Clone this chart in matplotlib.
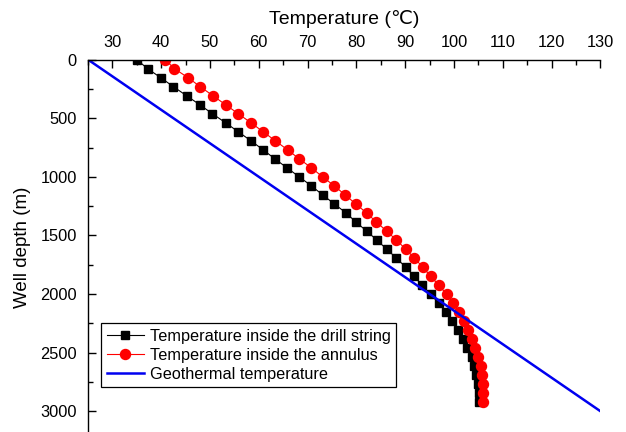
import matplotlib
matplotlib.use("Agg")
import matplotlib.pyplot as plt
from matplotlib.ticker import MultipleLocator

plt.rcParams['font.family'] = ['Liberation Sans', 'DejaVu Sans']

# well depth of the computed nodes (m)
depth = [0, 77, 154, 231, 308, 385, 462, 539, 616, 693, 770, 847, 924, 1001,
         1078, 1155, 1232, 1309, 1386, 1463, 1540, 1617, 1694, 1771, 1848,
         1925, 2002, 2079, 2156, 2233, 2310, 2387, 2464, 2541, 2618, 2695,
         2772, 2849, 2926]

# temperature inside the drill string (C)
t_string = [35.0, 37.2, 39.9, 42.5, 45.2, 47.9, 50.5, 53.2, 55.8, 58.4, 60.9,
            63.3, 65.8, 68.3, 70.8, 73.1, 75.5, 77.9, 79.9, 82.1, 84.2, 86.2,
            88.2, 90.1, 91.8, 93.5, 95.2, 96.9, 98.3, 99.7, 100.8, 101.9,
            102.7, 103.6, 104.2, 104.6, 104.9, 105.1, 105.1]

# temperature inside the annulus (C)
t_annulus = [40.8, 42.7, 45.5, 48.0, 50.6, 53.2, 55.8, 58.4, 60.9, 63.4, 65.9,
             68.3, 70.8, 73.1, 75.5, 77.7, 79.9, 82.1, 84.1, 86.2, 88.2, 90.1,
             91.9, 93.6, 95.2, 96.9, 98.5, 99.9, 101.0, 102.1, 102.9, 103.8,
             104.4, 104.9, 105.5, 105.8, 106.0, 106.0, 105.9]

# geothermal profile
geo_depth = [0, 3000]
geo_temp = [25, 130]

fig = plt.figure(figsize=(6.26, 4.32), dpi=100)
ax = fig.add_axes([0.1406, -0.006, 0.8184, 0.868])

ax.plot(t_string, depth, color="black", lw=0.8, marker="s", ms=6,
        mec="black", mfc="black", label="Temperature inside the drill string")
ax.plot(t_annulus, depth, color="red", lw=0.8, marker="o", ms=7.2,
        mec="red", mfc="red", label="Temperature inside the annulus")
ax.plot(geo_temp, geo_depth, color="#0000f0", lw=1.8,
        label="Geothermal temperature")

ax.set_xlim(25, 130)
ax.set_ylim(3200, 0)

ax.xaxis.set_label_position("top")
ax.xaxis.tick_top()
ax.set_xlabel("Temperature (\u2103)", fontsize=14, labelpad=8)
ax.set_ylabel("Well depth (m)", fontsize=13.5, labelpad=7)

ax.xaxis.set_major_locator(MultipleLocator(10))
ax.xaxis.set_minor_locator(MultipleLocator(5))
ax.yaxis.set_major_locator(MultipleLocator(500))
ax.yaxis.set_minor_locator(MultipleLocator(250))
ax.tick_params(which="both", direction="in", labelsize=11.8, width=1)
ax.tick_params(which="major", length=6)
ax.tick_params(which="minor", length=3.5)
ax.tick_params(axis="x", pad=7)
ax.tick_params(axis="y", pad=8)

ax.spines["right"].set_visible(False)
ax.spines["bottom"].set_visible(False)
for s in ("top", "left"):
    ax.spines[s].set_linewidth(1)

leg = ax.legend(loc="upper left", bbox_to_anchor=(0.0254, 0.298),
                fontsize=11.7, fancybox=False, framealpha=1, edgecolor="black",
                borderpad=0.35, labelspacing=0.25, handlelength=2.3,
                handletextpad=0.35, borderaxespad=0)
leg.get_frame().set_linewidth(0.9)

fig.savefig("out.png", dpi=100)
